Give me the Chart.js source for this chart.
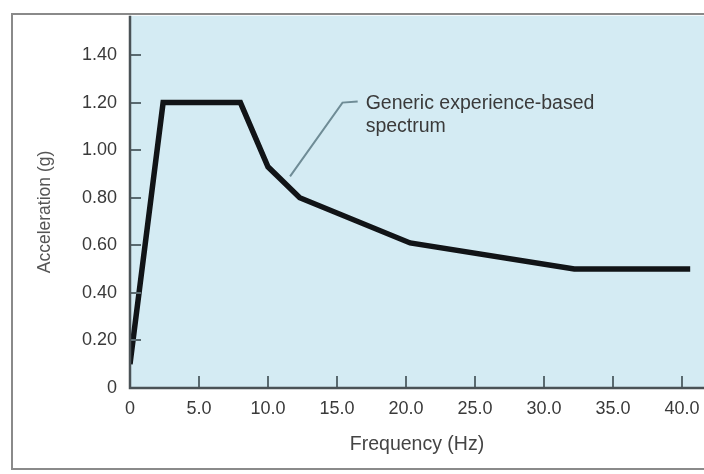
<!DOCTYPE html>
<html>
<head>
<meta charset="utf-8">
<script src="https://cdn.jsdelivr.net/npm/chart.js@4"></script>
<style>
  html, body { margin: 0; padding: 0; background: #fff; }
  #wrap { width: 704px; height: 474px; }
</style>
</head>
<body>
<div id="wrap"><canvas id="spectrumChart" width="704" height="474"></canvas></div>
<script>
// Spectrum corner points (Hz, g)
const freqHz = [0, 2.4, 8.0, 10.0, 12.3, 20.3, 32.2, 40.6];
const accelG = [0.10, 1.20, 1.20, 0.93, 0.80, 0.61, 0.50, 0.50];

const xTicks = [0, 5, 10, 15, 20, 25, 30, 35, 40];
const xTickLabels = ["0", "5.0", "10.0", "15.0", "20.0", "25.0", "30.0", "35.0", "40.0"];
const yTicks = [0, 0.2, 0.4, 0.6, 0.8, 1.0, 1.2, 1.4];
const yTickLabels = ["0", "0.20", "0.40", "0.60", "0.80", "1.00", "1.20", "1.40"];

// callout leader line (Hz, g) and its text
const calloutLine = [[11.6, 0.89], [15.4, 1.20], [16.5, 1.205]];
const calloutText = ["Generic experience-based", "spectrum"];

const FONT = "'Liberation Sans', Arial, sans-serif";
const TEXT = "#3a3a3a";

const frame = {
  id: "frame",
  beforeDraw(chart) {
    const { ctx, chartArea: a } = chart;
    ctx.save();
    ctx.fillStyle = "#d4ebf3";
    ctx.fillRect(a.left, a.top, a.right - a.left, a.bottom - a.top);
    ctx.strokeStyle = "#8a8a8a";
    ctx.lineWidth = 2;
    ctx.beginPath();
    ctx.moveTo(704, 14);
    ctx.lineTo(12, 14);
    ctx.lineTo(12, 469);
    ctx.lineTo(704, 469);
    ctx.stroke();
    ctx.restore();
  },
  afterDatasetsDraw(chart) {
    const { ctx, scales: { x, y }, chartArea: a } = chart;
    ctx.save();
    // inward tick marks
    ctx.strokeStyle = "#5a6a70";
    ctx.lineWidth = 2;
    ctx.beginPath();
    yTicks.forEach(v => {
      if (v === 0) return;
      const py = Math.round(y.getPixelForValue(v));
      ctx.moveTo(a.left, py);
      ctx.lineTo(a.left + 11, py);
    });
    xTicks.forEach(v => {
      if (v === 0) return;
      const px = Math.round(x.getPixelForValue(v));
      ctx.moveTo(px, a.bottom);
      ctx.lineTo(px, a.bottom - 12);
    });
    ctx.stroke();

    // axis lines
    ctx.strokeStyle = "#4a5256";
    ctx.lineWidth = 2.5;
    ctx.beginPath();
    ctx.moveTo(a.left, a.top);
    ctx.lineTo(a.left, a.bottom);
    ctx.lineTo(a.right, a.bottom);
    ctx.stroke();

    // callout
    ctx.strokeStyle = "#6f8c96";
    ctx.lineWidth = 2;
    ctx.beginPath();
    calloutLine.forEach(([hx, gy], i) => {
      const px = x.getPixelForValue(hx), py = y.getPixelForValue(gy);
      if (i === 0) ctx.moveTo(px, py); else ctx.lineTo(px, py);
    });
    ctx.stroke();
    const last = calloutLine[calloutLine.length - 1];
    const tx = x.getPixelForValue(last[0]) + 8;
    const ty = y.getPixelForValue(last[1]) + 2;
    ctx.fillStyle = TEXT;
    ctx.font = "19.5px " + FONT;
    ctx.textBaseline = "middle";
    ctx.fillText(calloutText[0], tx, ty);
    ctx.fillText(calloutText[1], tx, ty + 23);

    // y axis title
    ctx.translate(45, 212);
    ctx.rotate(-Math.PI / 2);
    ctx.textAlign = "center";
    ctx.fillStyle = "#555";
    ctx.font = "17.5px " + FONT;
    ctx.fillText("Acceleration (g)", 0, 0);
    ctx.restore();
  }
};

new Chart(document.getElementById("spectrumChart"), {
  type: "line",
  data: {
    datasets: [{
      label: "Generic experience-based spectrum",
      data: freqHz.map((f, i) => ({ x: f, y: accelG[i] })),
      borderColor: "#111417",
      borderWidth: 5.5,
      borderJoinStyle: "miter",
      pointRadius: 0,
      tension: 0,
      fill: false
    }]
  },
  options: {
    responsive: false,
    animation: false,
    layout: { padding: { top: 15, right: 0, left: 0, bottom: 0 } },
    plugins: { legend: { display: false }, tooltip: { enabled: false } },
    scales: {
      x: {
        type: "linear",
        min: 0,
        max: 41.6,
        border: { display: false },
        grid: { display: false },
        afterBuildTicks: s => { s.ticks = xTicks.map(v => ({ value: v })); },
        afterFit: s => { s.height = 86; },
        ticks: {
          padding: 2,
          color: TEXT,
          font: { family: FONT, size: 18 },
          callback: v => xTickLabels[xTicks.indexOf(v)]
        },
        title: {
          display: true,
          text: "Frequency (Hz)",
          color: "#444",
          font: { family: FONT, size: 19.5 },
          padding: { top: 0, bottom: 18 }
        }
      },
      y: {
        min: 0,
        max: 1.565,
        border: { display: false },
        grid: { display: false },
        afterBuildTicks: s => { s.ticks = yTicks.map(v => ({ value: v })); },
        afterFit: s => { s.width = 130; },
        ticks: {
          padding: 5,
          color: TEXT,
          font: { family: FONT, size: 18 },
          callback: v => yTickLabels[yTicks.findIndex(t => Math.abs(t - v) < 1e-9)]
        }
      }
    }
  },
  plugins: [frame]
});
</script>
</body>
</html>
